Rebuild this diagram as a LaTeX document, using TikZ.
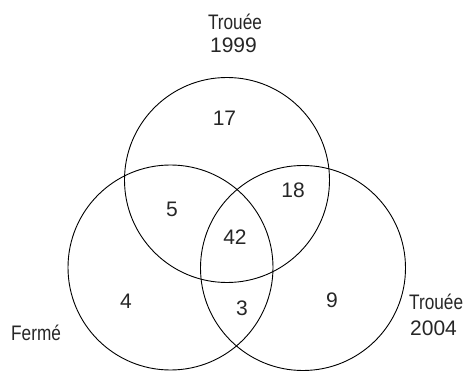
\documentclass[tikz,border=0pt]{standalone}
\usepackage{fontspec}
\setmainfont{Liberation Sans}
\newfontfamily\narrowfont[FakeStretch=0.82]{Liberation Sans}
\begin{document}
\begin{tikzpicture}[x=1pt,y=-1pt,
  setcirc/.style={circle,draw=black,line width=0.9pt,inner sep=0pt,minimum size=205pt},
  num/.style={inner sep=0pt,anchor=base,font=\fontsize{21}{24}\selectfont,text=black!85},
  lbl/.style={inner sep=0pt,anchor=base,font=\fontsize{21}{24}\selectfont\narrowfont,text=black!85},
  ]
\useasboundingbox (0,0) rectangle (463,371);
\node[setcirc] (top) at (227,180) {};
\node[setcirc] (left) at (170.5,267.5) {};
\node[setcirc] (right) at (303,268) {};
\node[lbl] (ttopa) at (235,30) {Trouée};
\node[num] (ttopb) at (233.5,53) {1999};
\node[lbl,anchor=base west] (trighta) at (409,309.3) {Trouée};
\node[num,anchor=base west] (trightb) at (410,335.7) {2004};
\node[lbl,anchor=base west] (tleft) at (11,340) {Fermé};
\node[num] (n17) at (224.5,125.7) {17};
\node[num] (n18) at (293,197.3) {18};
\node[num] (n5) at (172,216.7) {5};
\node[num] (n42) at (235,245) {42};
\node[num] (n4) at (126,308.3) {4};
\node[num] (n3) at (242,316) {3};
\node[num] (n9) at (332,307.7) {9};
\end{tikzpicture}
\end{document}
